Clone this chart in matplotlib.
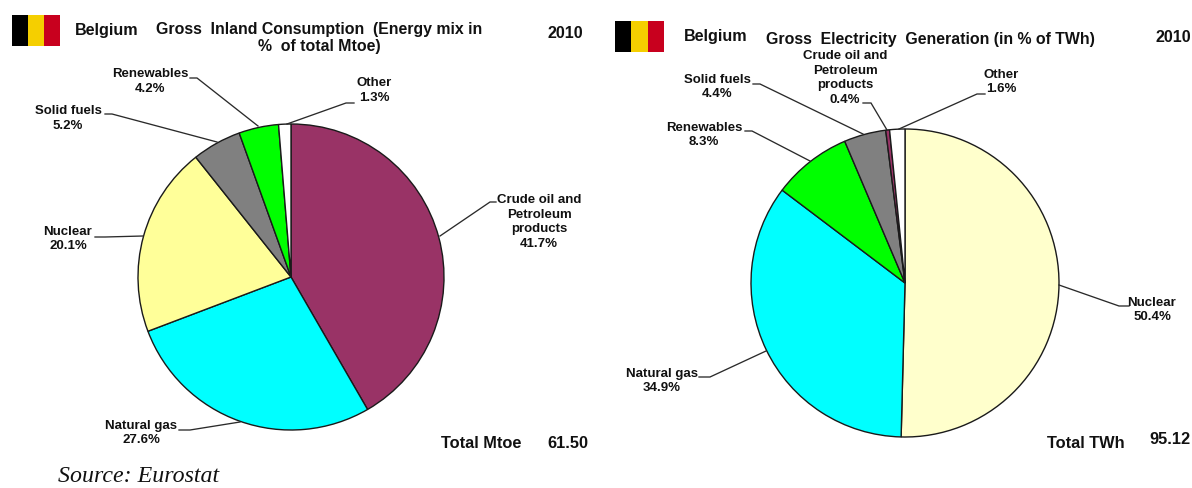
import matplotlib
matplotlib.use("Agg")
import matplotlib.pyplot as plt
from matplotlib.patches import Rectangle

W, H = 1192, 488
SANS = "Liberation Sans"

left_labels = ["Crude oil and\nPetroleum\nproducts", "Natural gas", "Nuclear", "Solid fuels", "Renewables", "Other"]
left_values = [41.7, 27.6, 20.1, 5.2, 4.2, 1.3]
left_colors = ["#993366", "#00FFFF", "#FFFF99", "#808080", "#00FF00", "#FFFFFF"]
left_title = "Gross  Inland Consumption  (Energy mix in\n%  of total Mtoe)"
left_total_label = "Total Mtoe"
left_total = "61.50"

right_labels = ["Nuclear", "Natural gas", "Renewables", "Solid fuels", "Crude oil and\nPetroleum\nproducts", "Other"]
right_values = [50.4, 34.9, 8.3, 4.4, 0.4, 1.6]
right_colors = ["#FFFFCC", "#00FFFF", "#00FF00", "#808080", "#993366", "#FFFFFF"]
right_title = "Gross  Electricity  Generation (in % of TWh)"
right_total_label = "Total TWh"
right_total = "95.12"

country = "Belgium"
year = "2010"
source = "Source: Eurostat"

fig = plt.figure(figsize=(W / 100, H / 100), dpi=100, facecolor="white")


def draw_pie(cx, cy, r, values, colors):
    ax = fig.add_axes([(cx - r) / W, 1 - (cy + r) / H, 2 * r / W, 2 * r / H])
    ax.pie(values, colors=colors, startangle=90, counterclock=False, radius=1,
           wedgeprops=dict(edgecolor="#1a1a1a", linewidth=1.0))
    ax.set_xlim(-1, 1)
    ax.set_ylim(-1, 1)
    for p in ax.patches:
        p.set_clip_on(False)


draw_pie(291, 277, 153, left_values, left_colors)
draw_pie(905, 283, 154, right_values, right_colors)

ov = fig.add_axes([0, 0, 1, 1], zorder=5)
ov.set_xlim(0, W)
ov.set_ylim(H, 0)
ov.axis("off")
ov.patch.set_alpha(0)


def flag(x, y, w, h):
    cols = ["#000000", "#F5CF00", "#C8001E"]
    for i, c in enumerate(cols):
        ov.add_patch(Rectangle((x + i * w / 3, y), w / 3, h, facecolor=c, edgecolor="none"))


flag(12, 15, 48, 31)
flag(615, 21, 49, 31)


def txt(x, y, s, size=9.5, ha="center", va="center", spacing=1.28):
    ov.text(x, y, s, fontsize=size, ha=ha, va=va, family=SANS, fontweight="bold",
            color="#111111", linespacing=spacing)


def label(x, y, name, value):
    txt(x, y, f"{name}\n{value}%")


def leader(pts):
    xs, ys = zip(*pts)
    ov.plot(xs, ys, color="#2a2a2a", lw=0.95, solid_joinstyle="miter")


# left chart texts
txt(107, 30, country, 11.6)
txt(319, 38, left_title, 11.4, spacing=1.2)
txt(565, 33, year, 11.6)
txt(481, 443, left_total_label, 11.8)
txt(568, 443, left_total, 11.8)

left_pos = [(539, 222), (141, 433), (68, 239), (68, 118.5), (150, 81.5), (374, 90.5)]
for (x, y), n, v in zip(left_pos, left_labels, left_values):
    label(x, y, n, v)
leader([(496, 202), (490, 202), (440, 236)])
leader([(179, 430), (190, 430), (240, 422)])
leader([(95, 237), (105, 237), (143, 236)])
leader([(105, 114), (112, 114), (217, 142)])
leader([(190, 78), (197, 78), (258, 126)])
leader([(354, 103), (346, 103), (287, 124)])

# right chart texts
txt(716, 37, country, 11.6)
txt(930, 39.5, right_title, 11.4)
txt(1173, 38, year, 11.6)
txt(1086, 443, right_total_label, 11.8)
txt(1170, 440, right_total, 11.8)

right_pos = [(1152, 310), (662, 381), (704, 135), (717, 87), (845, 78), (1001, 82)]
for (x, y), n, v in zip(right_pos, right_labels, right_values):
    label(x, y, n, v)
leader([(1129, 306), (1119, 306), (1059, 285)])
leader([(699, 377), (710, 377), (766, 351)])
leader([(745, 131), (752, 131), (810, 161)])
leader([(753, 84), (760, 84), (863, 134)])
leader([(863, 103), (871, 103), (887, 130)])
leader([(985, 94), (977, 94), (899, 129)])

ov.text(58, 477, source, fontsize=17.2, family="Liberation Serif", style="italic",
        ha="left", va="center", color="#111111")

fig.savefig("out.png", dpi=100)
